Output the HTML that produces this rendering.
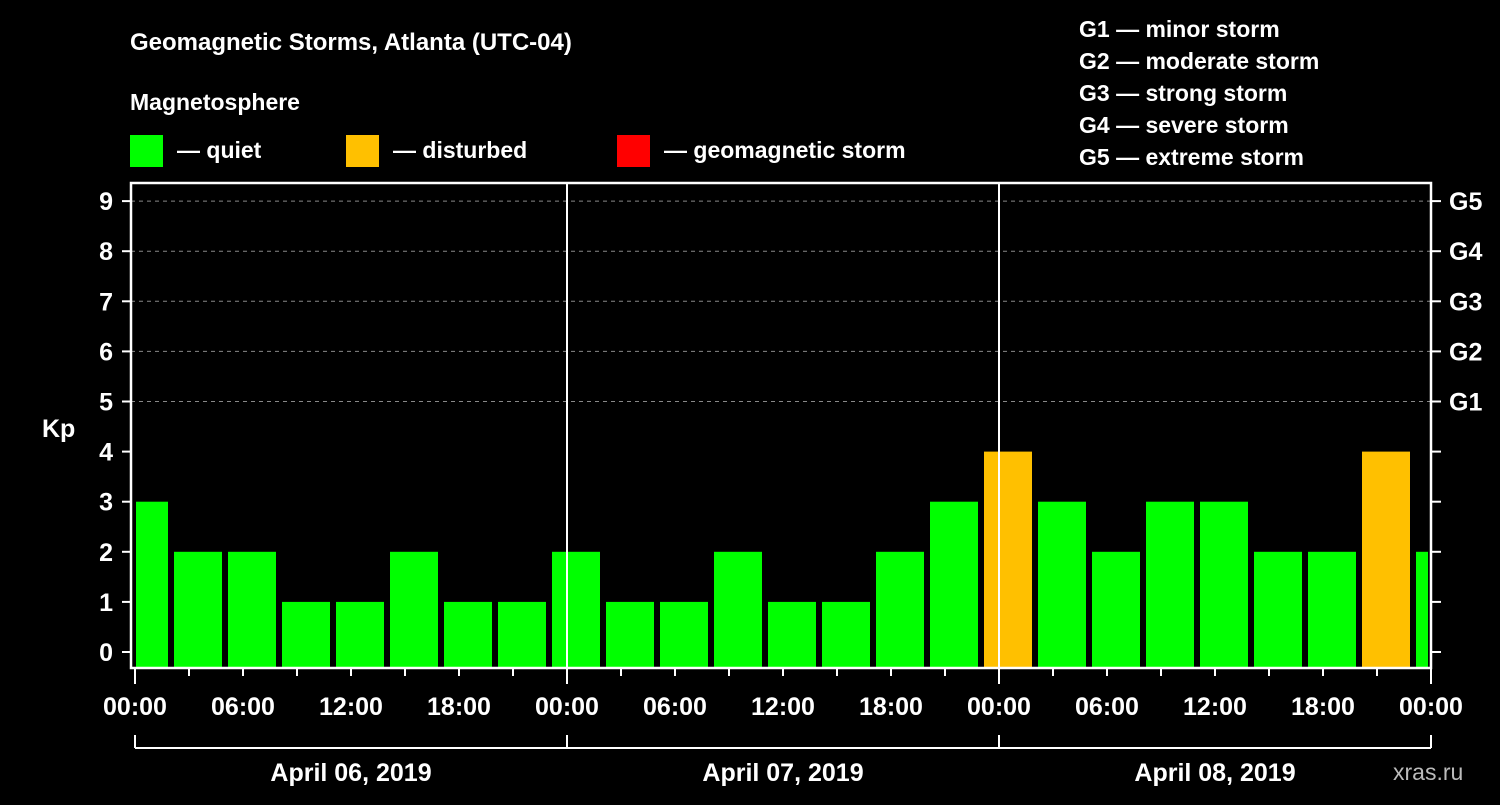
<!DOCTYPE html>
<html><head><meta charset="utf-8"><style>
body{margin:0;background:#000;width:1500px;height:800px;overflow:hidden;font-family:"Liberation Sans",Arial,sans-serif}
text{font-family:"Liberation Sans",Arial,sans-serif;font-weight:bold;fill:#fff}
</style></head><body>
<svg id="chart" width="1500" height="800" xmlns="http://www.w3.org/2000/svg">
<text x="130" y="50" font-size="24">Geomagnetic Storms, Atlanta (UTC-04)</text>
<text x="130" y="110" font-size="23">Magnetosphere</text>
<g><rect x="130" y="135" width="33" height="32" fill="#00ff00"/><text x="177" y="158" font-size="23">— quiet</text></g>
<g><rect x="346" y="135" width="33" height="32" fill="#ffc000"/><text x="393" y="158" font-size="23">— disturbed</text></g>
<g><rect x="617" y="135" width="33" height="32" fill="#ff0000"/><text x="664" y="158" font-size="23">— geomagnetic storm</text></g>
<g font-size="23">
<text x="1079" y="37">G1 — minor storm</text><text x="1079" y="69">G2 — moderate storm</text><text x="1079" y="101">G3 — strong storm</text><text x="1079" y="133">G4 — severe storm</text><text x="1079" y="165">G5 — extreme storm</text></g>
<text x="42" y="437" font-size="25">Kp</text>
<text x="1393" y="780" font-size="23" font-weight="normal" style="font-weight:normal;fill:#bbb">xras.ru</text>
<g id="plot"></g>
</svg>
<script>
const kpValues=[3,2,2,1,1,2,1,1,2,1,1,2,1,1,2,3,4,3,2,3,3,2,2,4,2];
const yTicks=[0,1,2,3,4,5,6,7,8,9];
const gLabels=["G1","G2","G3","G4","G5"];
const timeLabels=["00:00","06:00","12:00","18:00","00:00","06:00","12:00","18:00","00:00","06:00","12:00","18:00","00:00"];
const dayLabels=["April 06, 2019","April 07, 2019","April 08, 2019"];
const startOffsetHours=-1; // first bar starts 23:00 previous day
const X0=135,PXH=18,Y0=652,PXK=50.1,TOP=183,BOT=668,RIGHT=1431;
const xs=h=>X0+h*PXH, ys=k=>Y0-k*PXK;
const NS="http://www.w3.org/2000/svg",plot=document.getElementById('plot');
function mk(t,a){const e=document.createElementNS(NS,t);for(const k in a)e.setAttribute(k,a[k]);plot.appendChild(e);return e;}
// grid
for(let k=5;k<=9;k++){const l=mk('line',{x1:131,x2:RIGHT,y1:ys(k),y2:ys(k),stroke:'#888','stroke-dasharray':'4,4','stroke-width':1});

}
// bars
kpValues.forEach((v,i)=>{let s=xs(startOffsetHours+i*3)+3,e=xs(startOffsetHours+i*3+3)-3;
s=Math.max(s,136);e=Math.min(e,1428);
const r=mk('rect',{x:s,y:ys(v),width:e-s,height:BOT-ys(v),fill:v>=5?'#ff0000':v>=4?'#ffc000':'#00ff00'});

});
// day lines
for(let d=1;d<=2;d++){const l=mk('line',{x1:xs(24*d),x2:xs(24*d),y1:TOP,y2:BOT,stroke:'#fff','stroke-width':2});

}
// frame
const f=mk('rect',{x:131,y:TOP,width:RIGHT-131,height:BOT-TOP,fill:'none',stroke:'#fff','stroke-width':2.5});


// y ticks
yTicks.forEach(k=>{mk('line',{x1:122,x2:131,y1:ys(k),y2:ys(k),stroke:'#fff','stroke-width':2});
mk('line',{x1:RIGHT,x2:RIGHT+10,y1:ys(k),y2:ys(k),stroke:'#fff','stroke-width':2});
const t=mk('text',{x:113,y:ys(k)+9,'font-size':25,'text-anchor':'end'});t.textContent=k;

});
gLabels.forEach((g,i)=>{const t=mk('text',{x:1449,y:ys(5+i)+9,'font-size':25});t.textContent=g;

});
// x ticks
for(let h=0;h<=72;h+=3){const major=h%24===0;mk('line',{x1:xs(h),x2:xs(h),y1:BOT,y2:BOT+(major?16:8),stroke:'#fff','stroke-width':2});}
timeLabels.forEach((s,i)=>{const t=mk('text',{x:xs(i*6),y:715,'font-size':25,'text-anchor':'middle'});t.textContent=s;

});
// day bracket
mk('line',{x1:X0,x2:RIGHT,y1:748,y2:748,stroke:'#fff','stroke-width':2});
for(let d=0;d<=3;d++)mk('line',{x1:xs(24*d),x2:xs(24*d),y1:735,y2:748,stroke:'#fff','stroke-width':2});
dayLabels.forEach((s,i)=>{const t=mk('text',{x:xs(24*i+12),y:781,'font-size':25,'text-anchor':'middle'});t.textContent=s;

});
</script>
</body></html>
